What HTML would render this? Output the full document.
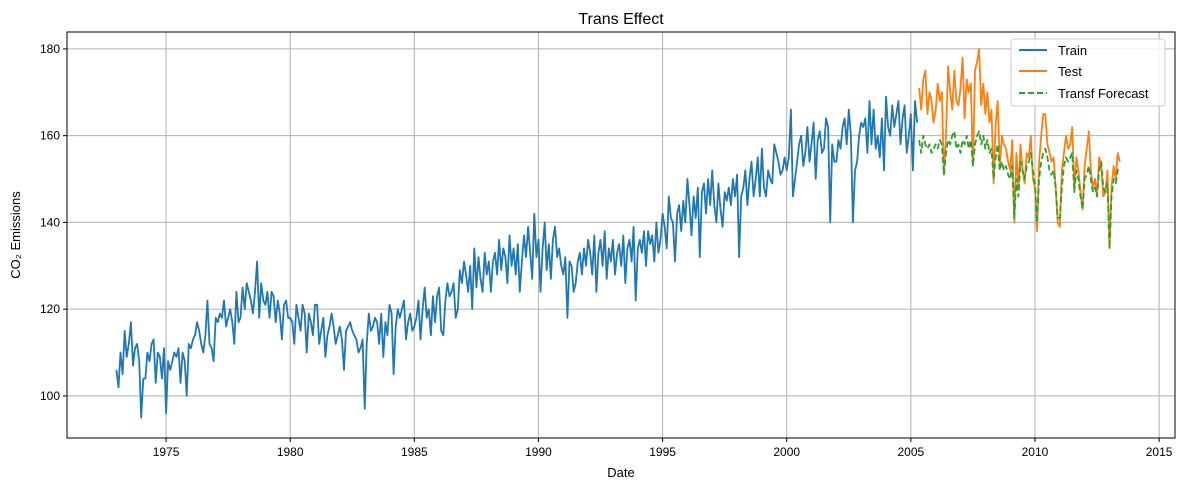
<!DOCTYPE html>
<html><head><meta charset="utf-8"><style>
body{margin:0;background:#fff;}
svg text{font-family:"Liberation Sans","DejaVu Sans",sans-serif;}
</style></head><body>
<svg id="chart" width="1188" height="490" xmlns="http://www.w3.org/2000/svg">
<rect width="1188" height="490" fill="#fff"/>
<g id="grid"></g>
<g id="series"></g>
<rect x="67" y="32" width="1108" height="406" fill="none" stroke="#000" stroke-width="1"/>
<g id="axes"></g>
<text x="621" y="24" font-size="16" text-anchor="middle">Trans Effect</text>
<text x="621" y="477" font-size="13" text-anchor="middle">Date</text>
<text x="20" y="235" font-size="13" text-anchor="middle" transform="rotate(-90 20 235)">CO₂ Emissions</text>
<g>
<rect x="1011" y="39" width="154" height="67" rx="3" fill="#fff" fill-opacity="0.8" stroke="#ccc"/>
<line x1="1019" y1="50" x2="1047" y2="50" stroke="#1f77b4" stroke-width="2"/>
<text x="1058" y="55" font-size="13">Train</text>
<line x1="1019" y1="71" x2="1047" y2="71" stroke="#ff7f0e" stroke-width="2"/>
<text x="1058" y="76" font-size="13">Test</text>
<line x1="1019" y1="93" x2="1047" y2="93" stroke="#2ca02c" stroke-width="2" stroke-dasharray="6,3"/>
<text x="1058" y="98" font-size="13">Transf Forecast</text>
</g>
</svg>
<script>
const xTicks=[1975,1980,1985,1990,1995,2000,2005,2010,2015];
const yTicks=[100,120,140,160,180];
const startYear=1973;
const train=[
106,102,110,105,115,109,112,117,107,111,112,108,
95,104,104,110,108,112,113,103,110,109,104,111,
96,108,106,108,110,109,111,103,110,108,100,112,
111,113,114,117,115,112,110,114,122,112,111,108,
118,117,119,118,122,116,118,120,117,112,124,117,
118,125,120,126,124,122,119,124,131,118,126,122,
121,124,118,124,123,117,122,119,113,121,122,118,
118,117,112,121,118,115,121,119,110,119,117,114,
121,121,112,115,118,109,114,116,119,116,112,114,
116,113,106,115,116,117,115,114,113,110,111,113,
97,112,119,115,116,118,117,112,119,109,117,114,
121,119,105,116,120,118,120,122,113,117,119,115,
116,118,122,113,120,125,118,120,114,123,117,123,
125,115,114,122,126,123,124,126,118,120,129,126,
131,128,124,130,120,134,125,132,127,124,133,128,
131,124,131,133,128,136,129,134,132,126,137,130,
134,128,135,124,131,137,132,139,133,127,142,132,
136,124,134,140,129,135,127,136,139,132,134,130,
128,132,118,131,130,124,126,131,133,128,134,130,
136,133,128,137,124,133,136,130,138,127,134,131,
136,128,133,135,130,137,126,134,136,131,139,122,
134,136,133,138,130,138,135,137,131,140,133,136,
142,139,134,146,141,140,131,142,144,138,145,140,
150,144,137,146,141,148,132,147,149,142,150,144,
152,144,140,149,143,139,147,145,148,144,150,146,
151,132,146,148,152,144,150,154,146,150,155,146,
157,148,146,152,150,149,158,156,154,151,152,155,
152,155,166,146,150,154,158,160,153,156,162,154,
158,163,150,159,161,156,157,164,162,140,158,154,
154,159,157,162,164,158,166,160,140,152,154,160,
163,162,164,156,168,158,166,157,160,155,164,152,
169,162,160,167,162,165,168,158,164,167,156,160,
165,152,168,163];
const test=[
171,166,173,175,165,170,168,163,
166,172,168,170,151,160,176,170,166,175,168,167,
171,178,164,173,170,172,153,175,177,180,167,172,
165,170,163,166,149,163,168,153,160,158,157,154,
152,159,140,156,148,158,152,149,156,155,160,150,
148,138,154,160,165,165,158,156,154,155,148,140,
139,152,156,160,157,158,162,148,155,152,147,143,
153,157,161,152,148,150,146,155,153,146,147,152,
134,148,153,150,156,154];
const forecast=[
159,156,160,158,157,158,156,157,
158,157,159,158,151,156,159,158,160,161,157,158,
156,159,158,160,157,159,153,158,160,161,158,160,
157,159,156,157,150,155,158,152,154,152,153,151,
150,153,141,150,146,154,152,150,153,154,156,152,
149,140,150,154,156,157,155,152,151,152,148,141,
141,148,153,155,154,155,156,147,152,150,146,143,
150,151,153,150,147,148,146,152,154,148,147,149,
134,146,150,149,152,153];

const L=67,R=1175,T=32,B=438;
const xMin=1971.01,xMax=2015.64,yMin=90.3,yMax=183.9;
const xs=v=>L+(v-xMin)/(xMax-xMin)*(R-L);
const ys=v=>B-(v-yMin)/(yMax-yMin)*(B-T);
const NS='http://www.w3.org/2000/svg';
const grid=document.getElementById('grid'),axes=document.getElementById('axes'),ser=document.getElementById('series');
function mk(tag,attrs,parent){const e=document.createElementNS(NS,tag);for(const k in attrs)e.setAttribute(k,attrs[k]);parent.appendChild(e);return e;}
xTicks.forEach(t=>{const x=xs(t);
 const g=mk('line',{x1:x,x2:x,y1:T,y2:B,stroke:'#b0b0b0','stroke-width':1},grid);
 
 
 mk('line',{x1:x,x2:x,y1:B,y2:B+4,stroke:'#000'},axes);
 const tx=mk('text',{x:x,y:B+18,'font-size':12,'text-anchor':'middle'},axes);tx.textContent=t;
 
 
});
yTicks.forEach(t=>{const y=ys(t);
 const g=mk('line',{x1:L,x2:R,y1:y,y2:y,stroke:'#b0b0b0','stroke-width':1},grid);
 
 
 mk('line',{x1:L-4,x2:L,y1:y,y2:y,stroke:'#000'},axes);
 const tx=mk('text',{x:L-7,y:y+4,'font-size':12,'text-anchor':'end'},axes);tx.textContent=t;
 
 
});
function line(arr,offset,color,dash,name){
 const pts=arr.map((v,i)=>xs(startYear+(i+offset)/12).toFixed(1)+','+ys(v).toFixed(1)).join(' ');
 const p=mk('polyline',{points:pts,fill:'none',stroke:color,'stroke-width':1.8,'stroke-linejoin':'round'},ser);
 if(dash)p.setAttribute('stroke-dasharray',dash);
 
 
}
line(train,0,'#1f77b4',null,'train-line');
line(test,train.length,'#ff7f0e',null,'test-line');
line(forecast,train.length,'#2ca02c','6,3','forecast-line');
</script>
</body></html>
